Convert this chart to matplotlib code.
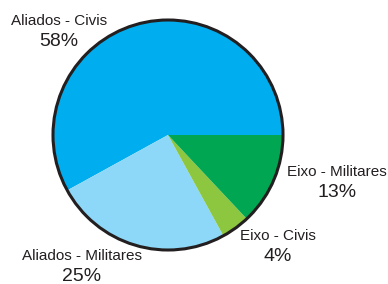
"""Pie chart: Aliados / Eixo, civis vs militares."""

import matplotlib
matplotlib.use("Agg")
import matplotlib.pyplot as plt
from matplotlib.patches import Circle

plt.rcParams["font.family"] = ["Liberation Sans", "DejaVu Sans"]

categories = ["Aliados - Civis", "Aliados - Militares", "Eixo - Civis", "Eixo - Militares"]
shares = [58, 25, 4, 13]
colors = ["#00aeef", "#8dd8f8", "#8dc63f", "#00a651"]

W, H = 388, 284
CENTER = (168, H - 135)
RADIUS = 115

# label anchor positions in pixel coords (x, y from top)
label_pos = {
    "Aliados - Civis": (59, 21),
    "Aliados - Militares": (82, 256),
    "Eixo - Civis": (278, 236),
    "Eixo - Militares": (337, 172),
}

fig = plt.figure(figsize=(W / 100, H / 100), dpi=100)
ax = fig.add_axes([0, 0, 1, 1])

ax.pie(
    shares,
    colors=colors,
    startangle=0,
    counterclock=True,
    center=CENTER,
    radius=RADIUS,
    wedgeprops={"linewidth": 0, "edgecolor": "none"},
    frame=True,
)
ax.add_patch(Circle(CENTER, RADIUS, fill=False, edgecolor="#231f20", linewidth=2.2))
ax.set_xlim(0, W)
ax.set_ylim(0, H)
ax.set_aspect("equal")
ax.axis("off")

for name, val in zip(categories, shares):
    x, y = label_pos[name]
    ax.text(x, H - y, name, ha="center", va="center", fontsize=11, color="#231f20")
    ax.text(x, H - y - 20.5, f"{val}%", ha="center", va="center", fontsize=14, color="#231f20")

fig.savefig("out.png", dpi=100)
